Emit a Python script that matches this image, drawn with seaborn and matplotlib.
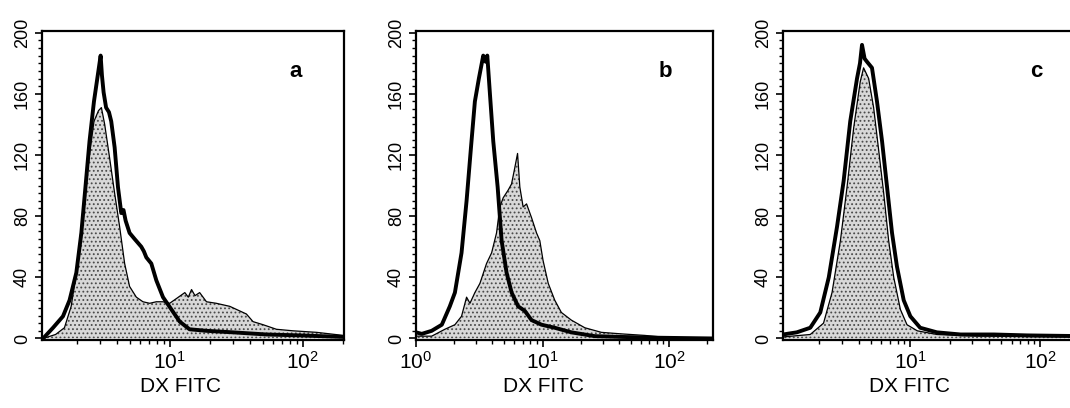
import numpy as np
import matplotlib
matplotlib.use("Agg")
import matplotlib.pyplot as plt
import seaborn as sns
from matplotlib.ticker import MultipleLocator, LogLocator, NullFormatter

# panel a - thick line (control) and stippled histogram
a_line_x = [1.12, 1.33, 1.58, 1.77, 1.99, 2.17, 2.33, 2.50, 2.70, 2.86, 2.95, 3.03, 3.10, 3.19, 3.33, 3.50,
            3.64, 3.86, 4.09, 4.33, 4.50, 4.67, 5.0, 5.46, 6.12, 6.40, 6.68, 7.28, 7.94, 8.91, 10.3, 11.9,
            14.1, 18.9, 29.9, 53.3, 94.8, 201]
a_line_y = [0, 7, 14.5, 25, 43, 69, 99, 129, 155, 170, 178, 185, 172, 161, 151, 148,
            142, 125, 99, 82, 84, 77, 69, 65, 60, 57, 53, 49, 38, 27, 19, 11,
            6, 5, 4, 2.6, 2, 1]
a_fill_x = [1.12, 1.39, 1.62, 1.82, 1.99, 2.17, 2.33, 2.50, 2.70, 2.92, 3.07, 3.25, 3.54, 3.86, 4.21, 4.59,
            5.0, 5.62, 6.3, 7.08, 7.94, 8.91, 10.0, 11.2, 13.0, 13.8, 14.6, 15.5, 16.8, 18.9, 22.4, 28.3,
            33.6, 37.7, 42.3, 50.3, 63.4, 84.5, 127, 201]
a_fill_y = [0, 2.6, 7, 21, 43, 73, 99, 120, 142, 149, 151, 140, 118, 95, 73, 49,
            34, 27, 24, 23, 24, 24, 23, 26, 30, 27, 32, 28, 30, 24, 23, 21,
            18, 16, 11, 9, 6, 5, 4, 2]

# panel b
b_line_x = [1.0, 1.11, 1.33, 1.6, 1.85, 2.03, 2.29, 2.51, 2.72, 2.92, 3.14, 3.40, 3.55, 3.66, 3.84, 4.08,
            4.42, 4.75, 5.2, 5.7, 6.42, 7.25, 8.19, 9.82, 12.5, 16.9, 25.9, 42, 77, 223]
b_line_y = [4, 3, 5, 9, 21, 30, 56, 90, 125, 155, 170, 185, 181, 185, 160, 129,
            99, 64, 43, 30, 21, 18, 12, 9, 7, 4, 1.5, 1, 0.5, 0]
b_fill_x = [1.0, 1.33, 1.69, 2.03, 2.29, 2.51, 2.67, 2.92, 3.2, 3.61, 3.96, 4.33, 4.6, 4.89, 5.35, 5.69,
            6.05, 6.35, 6.62, 7.03, 7.48, 8.19, 8.97, 9.52, 10.1, 11.1, 12.5, 14.1, 16.9, 21.6, 29.2, 42,
            64.2, 87, 141, 223]
b_fill_y = [1.5, 1.5, 6, 9, 14.5, 27, 23, 30, 36, 49, 56, 69, 86, 92, 97, 101,
            112, 121, 99, 86, 88, 79, 69, 64, 51, 36, 25, 17, 12, 7, 4, 3,
            2, 1, 0.4, 0]

# panel c
c_line_x = [1.05, 1.34, 1.70, 2.03, 2.36, 2.73, 3.07, 3.45, 3.89, 4.10, 4.25, 4.45, 4.64, 5.07, 5.54, 6.06,
            6.62, 7.23, 7.89, 8.89, 10.0, 11.9, 16.0, 24.3, 43.8, 78.8, 220]
c_line_y = [2.6, 4, 7, 17, 40, 73, 103, 142, 170, 180, 192, 183, 181, 177, 155, 129,
            99, 69, 47, 25, 14.5, 7, 4, 2.6, 2.6, 2, 1.5]
c_fill_x = [1.05, 1.70, 2.15, 2.50, 2.90, 3.26, 3.67, 4.12, 4.37, 4.78, 5.22, 5.71, 6.24, 6.81, 7.45, 8.38,
            9.42, 11.3, 16.0, 32.6, 220]
c_fill_y = [1, 2.6, 10, 30, 64, 99, 138, 168, 177, 170, 151, 123, 95, 64, 40, 19,
            9, 5, 2.6, 1.5, 1]

panels = [
    ("a", a_line_x, a_line_y, a_fill_x, a_fill_y, (1.1, 204), [0.0393, 0.1667, 0.2822, 0.757], 0.46),
    ("b", b_line_x, b_line_y, b_fill_x, b_fill_y, (1.0, 223), [0.3888, 0.1667, 0.2776, 0.757], 0.43),
    ("c", c_line_x, c_line_y, c_fill_x, c_fill_y, (1.05, 220), [0.7318, 0.1667, 0.2822, 0.757], 0.42),
]

sns.set_style("ticks")
plt.rcParams['font.family'] = ['Liberation Sans', 'DejaVu Sans']
plt.rcParams['mathtext.fontset'] = 'custom'
plt.rcParams['mathtext.rm'] = 'Liberation Sans'
plt.rcParams['mathtext.it'] = 'Liberation Sans'
plt.rcParams['hatch.linewidth'] = 0.8
for k in ['text.color', 'axes.labelcolor', 'xtick.color', 'ytick.color']:
    plt.rcParams[k] = 'black'

fig = plt.figure(figsize=(10.7, 4.08), dpi=100)

for letter, lx, ly, fx, fy, xlim, rect, labx in panels:
    ax = fig.add_axes(rect)
    ax.fill_between(fx, fy, 0, facecolor='#d8d8d8', edgecolor='#4a4a4a', hatch='....', linewidth=0)
    sns.lineplot(x=fx, y=fy, ax=ax, color='black', lw=0.9, estimator=None, sort=False)
    sns.lineplot(x=lx, y=ly, ax=ax, color='black', lw=2.8, estimator=None, sort=False)
    ax.set_xscale('log')
    ax.set_xlim(*xlim)
    ax.set_ylim(-1, 201)
    ax.yaxis.set_major_locator(MultipleLocator(40))
    ax.yaxis.set_minor_locator(MultipleLocator(5))
    ax.xaxis.set_major_locator(LogLocator(base=10))
    ax.xaxis.set_minor_locator(LogLocator(base=10, subs=np.arange(2, 10)))
    ax.xaxis.set_minor_formatter(NullFormatter())
    for lab in ax.get_yticklabels():
        lab.set_rotation(90)
        lab.set_va('center')
    ax.tick_params(axis='y', which='major', direction='out', length=5, width=1.2, labelsize=13, pad=3)
    ax.tick_params(axis='x', which='major', direction='out', length=5, width=1.2, labelsize=15, pad=3)
    ax.tick_params(axis='both', which='minor', direction='out', length=3, width=1.0)
    for sp in ax.spines.values():
        sp.set_linewidth(1.6)
        sp.set_color('black')
    ax.set_xlabel('DX FITC', fontsize=15)
    ax.xaxis.set_label_coords(labx, -0.12)
    ax.set_ylabel('')
    ax.text(0.84, 0.87, letter, transform=ax.transAxes, fontsize=16, fontweight='bold',
            ha='center', va='center')

fig.savefig('out.png', dpi=100)
